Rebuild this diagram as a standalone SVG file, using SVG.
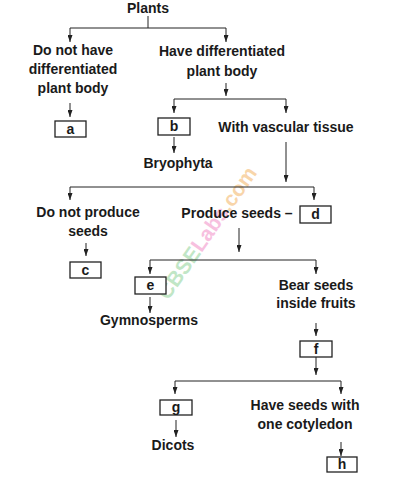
<svg xmlns="http://www.w3.org/2000/svg" width="401" height="486" viewBox="0 0 401 486">
<defs>
<marker id="ah" viewBox="0 0 7 5" refX="7" refY="2.5" markerWidth="7" markerHeight="5" markerUnits="userSpaceOnUse" orient="auto">
<path d="M0,0 L7,2.5 L0,5 Z" fill="#222"/>
</marker>
<style>
text{font-family:"Liberation Sans",Arial,sans-serif;font-weight:bold;font-size:14px;fill:#1a1a1a;text-anchor:middle}
.box{fill:#fff;stroke:#222;stroke-width:1.3}
.ln{fill:none;stroke:#222;stroke-width:1}
.ar{fill:none;stroke:#222;stroke-width:1}
.wm{font-size:21px;text-anchor:start}
</style>
</defs>
<rect width="401" height="486" fill="#fff"/>
<g id="watermark" transform="translate(168,301) rotate(-55)" opacity="0.7">
<text class="wm" x="0" y="0"><tspan fill="#a8dcae">CBSE</tspan><tspan fill="#f4a6d2">Labs</tspan><tspan fill="#f6c486">.com</tspan></text>
</g>
<g id="connectors">
<path class="ln" d="M148,16 V28 M70,28 H226"/>
<path class="ar" d="M70,28 V42" marker-end="url(#ah)"/>
<path class="ar" d="M226,28 V42" marker-end="url(#ah)"/>
<path class="ar" d="M70,103 V117" marker-end="url(#ah)"/>
<path class="ar" d="M226,83 V96" marker-end="url(#ah)"/>
<path class="ln" d="M174,99 H286"/>
<path class="ar" d="M174,99 V113" marker-end="url(#ah)"/>
<path class="ar" d="M286,99 V113" marker-end="url(#ah)"/>
<path class="ar" d="M174,137 V153" marker-end="url(#ah)"/>
<path class="ar" d="M286,142 V182" marker-end="url(#ah)"/>
<path class="ln" d="M70,187 H314"/>
<path class="ar" d="M70,187 V200" marker-end="url(#ah)"/>
<path class="ar" d="M314,187 V200" marker-end="url(#ah)"/>
<path class="ar" d="M86,243 V256" marker-end="url(#ah)"/>
<path class="ar" d="M239,228 V252" marker-end="url(#ah)"/>
<path class="ln" d="M150,260 H316"/>
<path class="ar" d="M150,260 V274" marker-end="url(#ah)"/>
<path class="ar" d="M316,260 V274" marker-end="url(#ah)"/>
<path class="ar" d="M150,297 V313" marker-end="url(#ah)"/>
<path class="ar" d="M316,323 V336" marker-end="url(#ah)"/>
<path class="ar" d="M316,357 V375" marker-end="url(#ah)"/>
<path class="ln" d="M175,381 H341"/>
<path class="ar" d="M175,381 V394" marker-end="url(#ah)"/>
<path class="ar" d="M341,381 V394" marker-end="url(#ah)"/>
<path class="ar" d="M176,420 V437" marker-end="url(#ah)"/>
<path class="ar" d="M341,442 V456" marker-end="url(#ah)"/>
</g>
<g id="n-plants"><text x="148" y="13">Plants</text></g>
<g id="n-nodiff"><text x="73" y="55">Do not have</text><text x="73" y="74">differentiated</text><text x="73" y="93">plant body</text></g>
<g id="n-diff"><text x="222" y="56">Have differentiated</text><text x="222" y="76">plant body</text></g>
<g id="n-a"><rect class="box" x="55" y="121" width="31" height="16"/><text x="70.5" y="134">a</text></g>
<g id="n-b"><rect class="box" x="158" y="118" width="32" height="17"/><text x="174" y="131">b</text></g>
<g id="n-vasc"><text x="286" y="132">With vascular tissue</text></g>
<g id="n-bryo"><text x="178" y="168">Bryophyta</text></g>
<g id="n-noseeds"><text x="88" y="217">Do not produce</text><text x="88" y="236">seeds</text></g>
<g id="n-seeds"><text x="237" y="218">Produce seeds –</text></g>
<g id="n-d"><rect class="box" x="300" y="206" width="31" height="17"/><text x="315.5" y="219">d</text></g>
<g id="n-c"><rect class="box" x="70" y="262" width="31" height="16"/><text x="85.5" y="275">c</text></g>
<g id="n-e"><rect class="box" x="135" y="277" width="31" height="17"/><text x="150.5" y="290">e</text></g>
<g id="n-gymno"><text x="149" y="325">Gymnosperms</text></g>
<g id="n-fruits"><text x="316" y="290">Bear seeds</text><text x="316" y="308">inside fruits</text></g>
<g id="n-f"><rect class="box" x="300" y="341" width="32" height="16"/><text x="316" y="354">f</text></g>
<g id="n-g"><rect class="box" x="160" y="400" width="32" height="15"/><text x="176" y="412">g</text></g>
<g id="n-dicots"><text x="173" y="450">Dicots</text></g>
<g id="n-mono"><text x="305" y="410">Have seeds with</text><text x="305" y="429">one cotyledon</text></g>
<g id="n-h"><rect class="box" x="327" y="457" width="30" height="15"/><text x="342" y="469">h</text></g>
</svg>
